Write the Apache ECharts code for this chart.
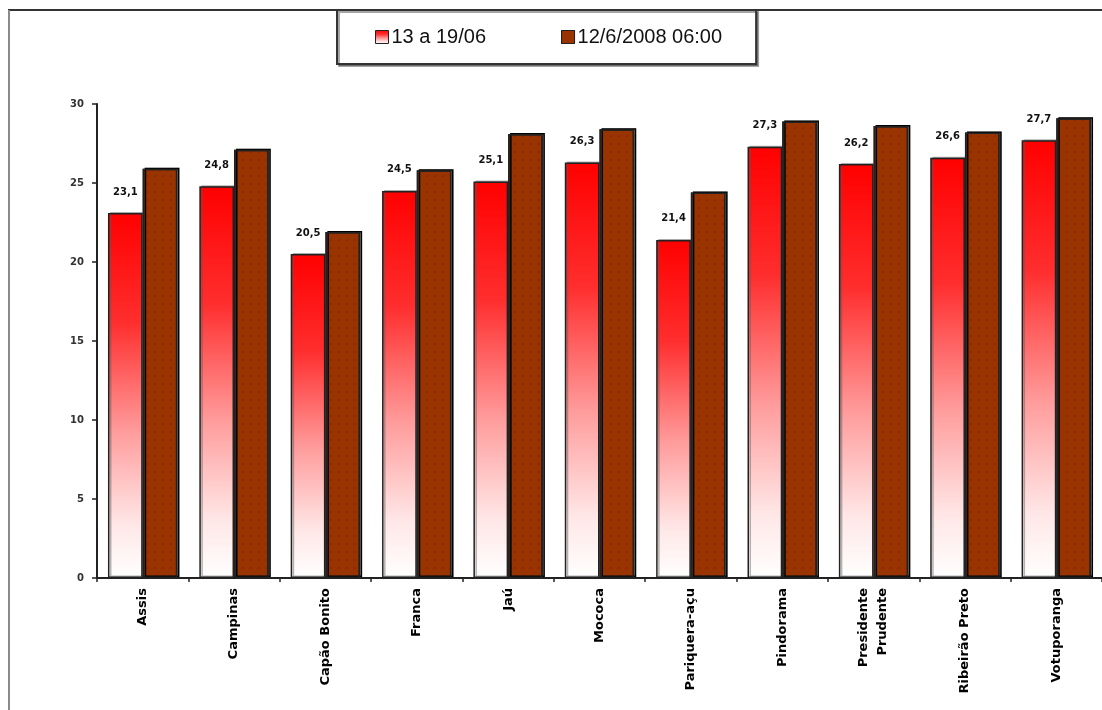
<!DOCTYPE html>
<html>
<head>
<meta charset="utf-8">
<title>Temperaturas</title>
<script src="https://cdn.jsdelivr.net/npm/echarts@6/dist/echarts.min.js"></script>
<style>
  html, body { margin: 0; padding: 0; background: #ffffff; }
  #chart { width: 1102px; height: 710px; }
</style>
</head>
<body>
<div id="chart"></div>
<script>
// Stations along the x axis
const cidades = [
  'Assis', 'Campinas', 'Capão Bonito', 'Franca', 'Jaú', 'Mococa',
  'Pariquera-açu', 'Pindorama', 'Presidente\nPrudente', 'Ribeirão Preto', 'Votuporanga'
];
// Series names
const serieSemana = '13 a 19/06';
const serieDia = '12/6/2008 06:00';
// Values per station
const valoresSemana = [23.1, 24.8, 20.5, 24.5, 25.1, 26.3, 21.4, 27.3, 26.2, 26.6, 27.7];
const valoresDia = [25.9, 27.1, 21.9, 25.8, 28.1, 28.4, 24.4, 28.9, 28.6, 28.2, 29.1];
// Value axis ticks
const yMin = 0, yMax = 30, yStep = 5;

const chart = echarts.init(document.getElementById('chart'), null, { renderer: 'canvas' });

const fadeRed = new echarts.graphic.LinearGradient(0, 0, 0, 1, [
  { offset: 0, color: '#ff0000' },
  { offset: 0.3, color: '#ff2e2e' },
  { offset: 0.6, color: '#ff9c9c' },
  { offset: 0.85, color: '#ffe6e6' },
  { offset: 1, color: '#ffffff' }
]);

chart.setOption({
  animation: false,
  backgroundColor: '#ffffff',
  graphic: [
    { type: 'line', z: 0, shape: { x1: 8, y1: 10, x2: 1102, y2: 10 }, style: { stroke: '#333333', lineWidth: 2 } },
    { type: 'line', z: 0, shape: { x1: 9, y1: 10, x2: 9, y2: 710 }, style: { stroke: '#8a8a8a', lineWidth: 2 } }
  ],
  legend: {
    left: 337,
    top: 10,
    padding: [17, 34, 17, 38],
    itemGap: 75,
    itemWidth: 13,
    itemHeight: 13,
    icon: 'rect',
    backgroundColor: '#ffffff',
    borderColor: '#333333',
    borderWidth: 2,
    shadowColor: 'rgba(0,0,0,0.35)',
    shadowOffsetX: 2,
    shadowOffsetY: 2,
    shadowBlur: 0,
    itemStyle: { borderColor: '#222222', borderWidth: 1 },
    textStyle: { fontFamily: 'Liberation Sans', fontSize: 20, color: '#111111', padding: [0, 0, 0, -2] },
    data: [serieSemana, serieDia]
  },
  grid: { left: 97, top: 104, width: 1008, height: 474 },
  xAxis: {
    type: 'category',
    data: cidades,
    boundaryGap: true,
    axisLine: { lineStyle: { color: '#222222', width: 2 } },
    axisTick: { show: true, length: 4, lineStyle: { color: '#222222', width: 1.5 } },
    axisLabel: {
      rotate: 90,
      interval: 0,
      margin: 10,
      fontFamily: 'DejaVu Sans',
      fontWeight: 'bold',
      fontSize: 13,
      lineHeight: 19,
      color: '#000000'
    }
  },
  yAxis: {
    type: 'value',
    min: yMin,
    max: yMax,
    interval: yStep,
    splitLine: { show: false },
    axisLine: { show: true, lineStyle: { color: '#222222', width: 2 } },
    axisTick: { show: true, length: 5, lineStyle: { color: '#222222', width: 1.5 } },
    axisLabel: {
      margin: 13,
      fontFamily: 'DejaVu Sans',
      fontWeight: 'bold',
      fontSize: 10,
      color: '#333333'
    }
  },
  series: [
    {
      name: serieSemana,
      type: 'bar',
      data: valoresSemana,
      barGap: '0%',
      barCategoryGap: '24%',
      itemStyle: {
        color: fadeRed,
        borderColor: '#222222',
        borderWidth: 1.5,
        shadowColor: 'rgba(90,90,90,0.45)',
        shadowOffsetX: 2,
        shadowOffsetY: -1,
        shadowBlur: 0
      },
      label: {
        show: true,
        position: 'top',
        distance: 16,
        fontFamily: 'DejaVu Sans',
        fontWeight: 'bold',
        fontSize: 10,
        color: '#111111',
        formatter: p => p.value.toFixed(1).replace('.', ',')
      }
    },
    {
      name: serieDia,
      type: 'bar',
      data: valoresDia,
      itemStyle: {
        color: '#993300',
        borderColor: '#222222',
        borderWidth: 1.5,
        shadowColor: 'rgba(90,90,90,0.45)',
        shadowOffsetX: 2,
        shadowOffsetY: -1,
        shadowBlur: 0,
        decal: {
          symbol: 'rect',
          symbolSize: 0.5,
          color: 'rgba(200,20,0,0.45)',
          dashArrayX: [2, 6],
          dashArrayY: [2, 6],
          rotation: 0
        }
      }
    }
  ]
});
</script>
</body>
</html>
